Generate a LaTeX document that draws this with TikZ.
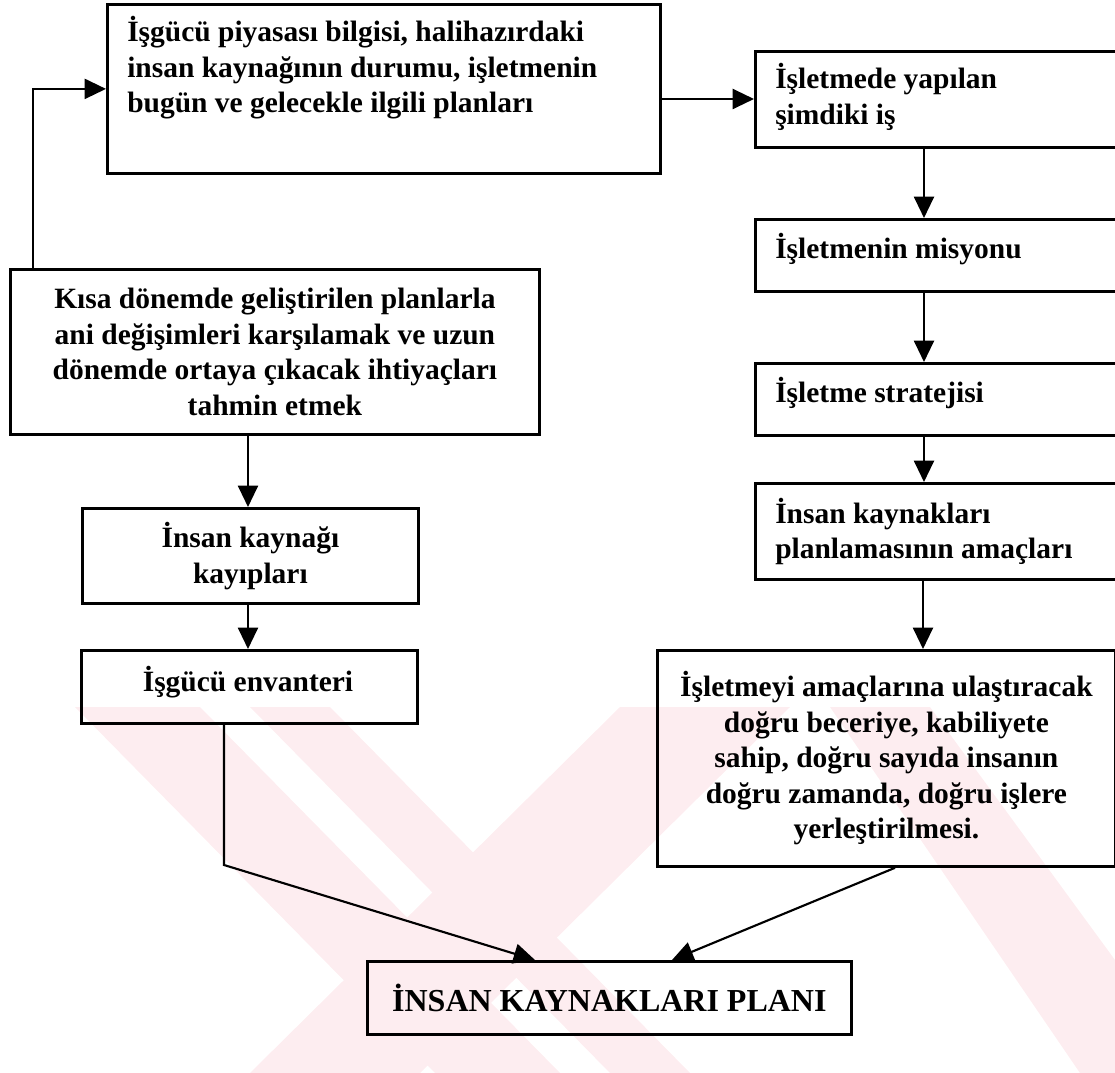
\documentclass[tikz,border=0pt]{standalone}
\usepackage{fontspec}
\setmainfont{Liberation Serif}
\usetikzlibrary{arrows.meta}
\definecolor{wm}{RGB}{253,237,240}
\tikzset{
  box/.style={draw=black, line width=2.1pt, inner sep=0pt},
  conn/.style={draw=black, line width=1.6pt, -{Triangle[length=16pt,width=15pt]}},
  txt/.style={font=\bfseries\fontsize{22.1}{26.6}\selectfont, inner sep=0pt},
}
\begin{document}
\begin{tikzpicture}[x=0.75pt,y=-0.75pt]
\useasboundingbox (0,0) rectangle (1115,1073);
% watermark
\fill[wm] (75,707) -- (200,707) -- (560,1073) -- (435,1073) -- cycle;
\fill[wm] (250,707) -- (330,707) -- (690,1073) -- (610,1073) -- cycle;
\fill[wm] (620,707) -- (790,707) -- (420,1073) -- (250,1073) -- cycle;
\fill[wm] (830,707) -- (930,707) -- (1115,960) -- (1115,1073) -- (1080,1073) -- cycle;
% boxes
\node[box, minimum width=553*0.75pt, minimum height=169*0.75pt, anchor=north west] (T) at (106,3) {};
\node[txt, anchor=base west] (Tt) at (127,42) {\parbox[t]{520\dimexpr0.75pt}{\raggedright İşgücü piyasası bilgisi, halihazırdaki\\insan kaynağının durumu, işletmenin\\bugün ve gelecekle ilgili planları}};
\node[box, minimum width=361*0.75pt, minimum height=96*0.75pt, anchor=north west] (R1) at (754,50) {};
\node[txt, anchor=base west] (R1t) at (775,89) {\parbox[t]{330\dimexpr0.75pt}{\raggedright İşletmede yapılan\\şimdiki iş}};
\node[box, minimum width=361*0.75pt, minimum height=72*0.75pt, anchor=north west] (R2) at (754,218) {};
\node[txt, anchor=base west] (R2t) at (775,259) {İşletmenin misyonu};
\node[box, minimum width=361*0.75pt, minimum height=72*0.75pt, anchor=north west] (R3) at (754,362) {};
\node[txt, anchor=base west] (R3t) at (775,403) {İşletme stratejisi};
\node[box, minimum width=361*0.75pt, minimum height=96*0.75pt, anchor=north west] (R4) at (754,482) {};
\node[txt, anchor=base west] (R4t) at (775,523) {\parbox[t]{330\dimexpr0.75pt}{\raggedright İnsan kaynakları\\planlamasının amaçları}};
\node[box, minimum width=458*0.75pt, minimum height=216*0.75pt, anchor=north west, txt, align=center] (R5) at (656,649) {İşletmeyi amaçlarına ulaştıracak\\doğru beceriye, kabiliyete\\sahip, doğru sayıda insanın\\doğru zamanda, doğru işlere\\yerleştirilmesi.};
\node[box, minimum width=529*0.75pt, minimum height=165*0.75pt, anchor=north west, txt, align=center] (K) at (9,268) {Kısa dönemde geliştirilen planlarla\\ani değişimleri karşılamak ve uzun\\dönemde ortaya çıkacak ihtiyaçları\\tahmin etmek};
\node[box, minimum width=336*0.75pt, minimum height=95*0.75pt, anchor=north west, txt, align=center] (IK) at (81,507) {İnsan kaynağı\\kayıpları};
\node[box, minimum width=336*0.75pt, minimum height=73*0.75pt, anchor=north west] (IE) at (80,649) {};
\node[txt, anchor=base] (IEt) at (248,691) {İşgücü envanteri};
\node[box, minimum width=484*0.75pt, minimum height=73*0.75pt, anchor=north west, txt, font=\bfseries\fontsize{24}{28}\selectfont] (P) at (366,960) {İNSAN KAYNAKLARI PLANI};
% connectors
\coordinate (kup) at (33,268);
\draw[conn] (kup) |- (T.west);
\draw[conn] (T.east |- 0,99) -- (R1.west |- 0,99);
\draw[conn] (R1.south -| 924,0) -- (R2.north -| 924,0);
\draw[conn] (R2.south -| 924,0) -- (R3.north -| 924,0);
\draw[conn] (R3.south -| 924,0) -- (R4.north -| 924,0);
\draw[conn] (R4.south -| 923,0) -- (R5.north -| 923,0);
\draw[conn] (K.south -| 248,0) -- (IK.north -| 248,0);
\draw[conn] (IK.south -| 248,0) -- (IE.north -| 248,0);
\coordinate (bend) at (224,865);
\coordinate (pl) at (535,960);
\coordinate (pr) at (672,960);
\draw[conn] (IE.south -| 224,0) -- (bend) -- (pl);
\draw[conn] (R5.south -| 895,0) -- (pr);
\end{tikzpicture}
\end{document}
